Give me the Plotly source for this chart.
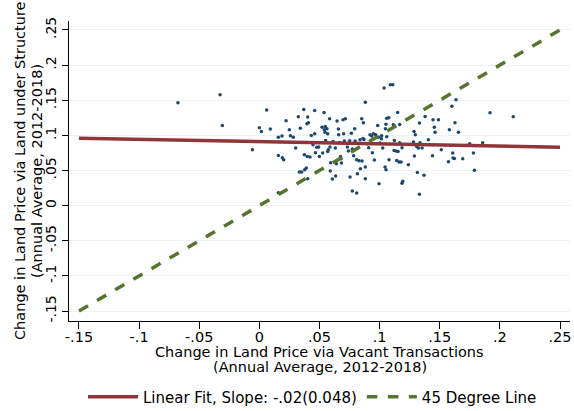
import plotly.graph_objects as go

# Scatter data: vacant-transaction change (x) vs land-under-structure change (y)
x_vals = [-0.0677, -0.0327, -0.0308, -0.0058, 0.0000, 0.0017, 0.0061, 0.0091, 0.0158, 0.0158,
          0.0188, 0.0191, 0.0202, 0.0222, 0.0249, 0.0258, 0.0282, 0.0302, 0.0324, 0.0332,
          0.0341, 0.0352, 0.0369, 0.0374, 0.0377, 0.0390, 0.0396, 0.0402, 0.0407, 0.0402,
          0.0399, 0.0421, 0.0432, 0.0446, 0.0460, 0.0460, 0.0466, 0.0477, 0.0493, 0.0499,
          0.0521, 0.0526, 0.0538, 0.0540, 0.0546, 0.0548, 0.0551, 0.0562, 0.0568, 0.0568,
          0.0573, 0.0587, 0.0584, 0.0590, 0.0593, 0.0607, 0.0612, 0.0632, 0.0634, 0.0640,
          0.0646, 0.0657, 0.0659, 0.0665, 0.0674, 0.0679, 0.0682, 0.0696, 0.0701, 0.0707,
          0.0715, 0.0732, 0.0740, 0.0751, 0.0754, 0.0765, 0.0773, 0.0773, 0.0784, 0.0793,
          0.0796, 0.0809, 0.0809, 0.0815, 0.0829, 0.0837, 0.0840, 0.0851, 0.0854, 0.0862,
          0.0865, 0.0870, 0.0881, 0.0881, 0.0881, 0.0892, 0.0909, 0.0920, 0.0934, 0.0940,
          0.0948, 0.0956, 0.0967, 0.0984, 0.0990, 0.0995, 0.1003, 0.1015, 0.1017, 0.1026,
          0.1037, 0.1045, 0.1048, 0.1053, 0.1053, 0.1059, 0.1059, 0.1076, 0.1078, 0.1089,
          0.1109, 0.1114, 0.1120, 0.1123, 0.1137, 0.1142, 0.1150, 0.1153, 0.1161, 0.1167,
          0.1167, 0.1178, 0.1186, 0.1186, 0.1192, 0.1239, 0.1281, 0.1286, 0.1289, 0.1297,
          0.1308, 0.1314, 0.1322, 0.1331, 0.1331, 0.1336, 0.1353, 0.1369, 0.1378, 0.1405,
          0.1439, 0.1444, 0.1455, 0.1461, 0.1489, 0.1513, 0.1572, 0.1580, 0.1600, 0.1608,
          0.1610, 0.1622, 0.1627, 0.1635, 0.1655, 0.1691, 0.1749, 0.1780, 0.1788, 0.0158,
          0.1857, 0.1918, 0.2111]
y_vals = [0.1464, 0.1580, 0.1140, 0.0795, 0.1110, 0.1056, 0.1360, 0.1090, 0.0975, 0.0715,
          0.0990, 0.0680, 0.0653, 0.1207, 0.1080, 0.0994, 0.0975, 0.0820, 0.1264, 0.0478,
          0.1103, 0.0478, 0.1370, 0.0725, 0.0512, 0.0535, 0.1165, 0.1260, 0.1180, 0.0384,
          0.0701, 0.0691, 0.1000, 0.0867, 0.1355, 0.1023, 0.0754, 0.0830, 0.0834, 0.0701,
          0.1117, 0.0748, 0.1326, 0.1080, 0.1046, 0.1127, 0.0928, 0.1094, 0.1023, 0.0772,
          0.0795, 0.0833, 0.1236, 0.0492, 0.0611, 0.0379, 0.0914, 0.0820, 0.0422, 0.0597,
          0.1203, 0.1090, 0.1009, 0.0900, 0.0701, 0.0668, 0.0606, 0.1222, 0.1023, 0.0919,
          0.1236, 0.0833, 0.0777, 0.0924, 0.0407, 0.1032, 0.0805, 0.0210, 0.0711, 0.1094,
          0.0919, 0.0653, 0.0180, 0.0455, 0.0639, 0.0938, 0.0526, 0.1236, 0.0634, 0.0957,
          0.1180, 0.0942, 0.1473, 0.0550, 0.0384, 0.0881, 0.0824, 0.1009, 0.0990, 0.0753,
          0.1023, 0.0649, 0.1009, 0.1140, 0.0975, 0.0313, 0.0891, 0.0952, 0.0995, 0.0820,
          0.1676, 0.0550, 0.1094, 0.1160, 0.0512, 0.1245, 0.0980, 0.1250, 0.0653, 0.1719,
          0.1719, 0.1151, 0.0786, 0.0928, 0.0777, 0.0644, 0.1326, 0.0772, 0.0620, 0.1155,
          0.0895, 0.0620, 0.0317, 0.0824, 0.0346, 0.0583, 0.0904, 0.1056, 0.0706, 0.1009,
          0.0843, 0.0470, 0.0820, 0.1175, 0.0162, 0.0895, 0.0820, 0.0432, 0.1270, 0.0938,
          0.0711, 0.1222, 0.1117, 0.1046, 0.1222, 0.0795, 0.0625, 0.1080, 0.1416, 0.0748,
          0.0677, 0.0672, 0.1180, 0.1506, 0.1046, 0.0668, 0.0881, 0.0748, 0.0502, 0.0185,
          0.0896, 0.1322, 0.1266]

# Fitted line and 45-degree line endpoints
fit_x = [-0.15, 0.25]
fit_y = [0.096, 0.083]
diag_x = [-0.15, 0.25]
diag_y = [-0.15, 0.25]

tick_vals = [-0.15, -0.1, -0.05, 0, 0.05, 0.1, 0.15, 0.2, 0.25]
tick_text = ["-.15", "-.1", "-.05", "0", ".05", ".1", ".15", ".2", ".25"]

fit_label = "Linear Fit, Slope: -.02(0.048)"
diag_label = "45 Degree Line"
x_title_lines = ["Change in Land Price via Vacant Transactions", "(Annual Average, 2012-2018)"]
y_title_lines = ["Change in Land Price via Land under Structure", "(Annual Average, 2012-2018)"]

fig = go.Figure()
fig.add_trace(go.Scatter(x=x_vals, y=y_vals, mode="markers",
                         marker=dict(color="#1a476f", size=3.5),
                         showlegend=False, hoverinfo="skip"))
fig.add_trace(go.Scatter(x=fit_x, y=fit_y, mode="lines", name=fit_label,
                         line=dict(color="#90353b", width=3.5)))
fig.add_trace(go.Scatter(x=diag_x, y=diag_y, mode="lines", name=diag_label,
                         line=dict(color="#55752f", width=3.5, dash="dash")))

# Axis titles as annotations (paper-relative placement)
PLOT_W, PLOT_H = 501, 300
x_title_y = [-31 / PLOT_H, -46 / PLOT_H]
for txt, yy in zip(x_title_lines, x_title_y):
    fig.add_annotation(text=txt, xref="paper", yref="paper", x=0.5, y=yy,
                       xanchor="center", yanchor="middle", showarrow=False,
                       font=dict(family="DejaVu Sans", size=14.5, color="#000000"))
y_title_x = [-49 / PLOT_W, -32 / PLOT_W]
for txt, xx in zip(y_title_lines, y_title_x):
    fig.add_annotation(text=txt, xref="paper", yref="paper", x=xx, y=0.5,
                       xanchor="center", yanchor="middle", showarrow=False, textangle=-90,
                       font=dict(family="DejaVu Sans", size=14.5, color="#000000"))

font = dict(family="DejaVu Sans", size=14, color="#000000")
fig.update_layout(
    width=574, height=411,
    margin=dict(l=69, r=4, t=21, b=90, autoexpand=False),
    paper_bgcolor="white", plot_bgcolor="white",
    font=font,
    legend=dict(orientation="h", x=0.486, xanchor="center",
                yref="container", y=0.074, yanchor="top",
                font=dict(family="DejaVu Sans", size=15), itemwidth=50),
    xaxis=dict(range=[-0.1583, 0.2583], tickvals=tick_vals, ticktext=tick_text,
               automargin=False,
               showgrid=False, zeroline=False, showline=True, linecolor="#000000",
               linewidth=1, ticks="outside", ticklen=7, tickcolor="#000000",
               ticklabelstandoff=-4,
               tickfont=dict(size=14.5)),
    yaxis=dict(range=[-0.1642, 0.2628], tickvals=tick_vals, ticktext=tick_text,
               automargin=False,
               showgrid=True, gridcolor="#eaf2f3", gridwidth=1,
               zeroline=False, showline=True, linecolor="#000000",
               linewidth=1, ticks="outside", ticklen=6, tickcolor="#000000",
               tickangle=-90, tickfont=dict(size=14)),
)

fig.write_html("out.html")
